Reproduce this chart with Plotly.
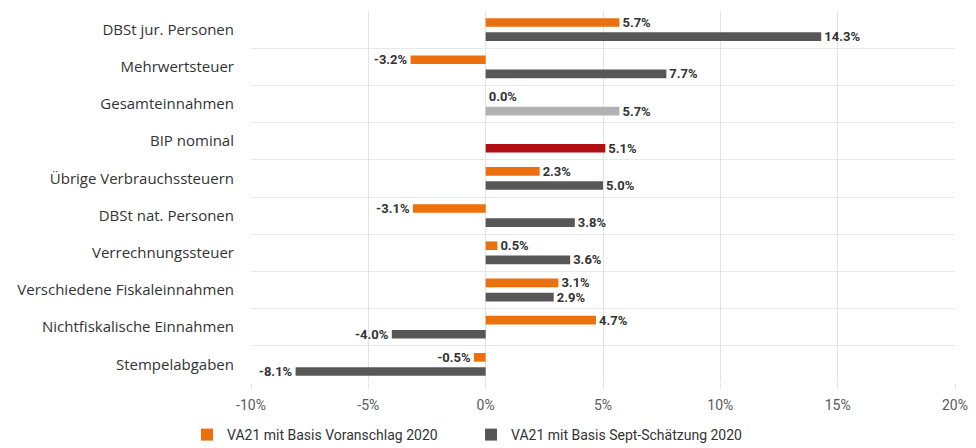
import plotly.graph_objects as go

categories = [
    "DBSt jur. Personen",
    "Mehrwertsteuer",
    "Gesamteinnahmen",
    "BIP nominal",
    "Übrige Verbrauchssteuern",
    "DBSt nat. Personen",
    "Verrechnungssteuer",
    "Verschiedene Fiskaleinnahmen",
    "Nichtfiskalische Einnahmen",
    "Stempelabgaben",
]
voranschlag = [5.7, -3.2, 0.0, None, 2.3, -3.1, 0.5, 3.1, 4.7, -0.5]
sept = [14.3, 7.7, 5.7, 5.1, 5.0, 3.8, 3.6, 2.9, -4.0, -8.1]
tick_vals = [-10, -5, 0, 5, 10, 15, 20]
tick_text = ["-10%", "-5%", "0%", "5%", "10%", "15%", "20%"]

ORANGE = "#EC700C"
DARK = "#575757"
LIGHT = "#B2B2B2"
RED = "#B20F12"

ypos = list(range(len(categories)))
sept_colors = []
for c in categories:
    if c == "Gesamteinnahmen":
        sept_colors.append(LIGHT)
    elif c == "BIP nominal":
        sept_colors.append(RED)
    else:
        sept_colors.append(DARK)

label_font = dict(family="Roboto, Arial, sans-serif", size=13, color="#333333")

fig = go.Figure()
fig.add_trace(go.Bar(
    y=ypos, x=voranschlag, orientation="h", name="VA21 mit Basis Voranschlag 2020",
    marker=dict(color=ORANGE, line=dict(width=0)),
    texttemplate="<b>%{x:.1f}%</b>", textposition="outside", textfont=label_font,
    constraintext="none", cliponaxis=False,
))
fig.add_trace(go.Bar(
    y=ypos, x=sept, orientation="h", name="VA21 mit Basis Sept-Schätzung 2020",
    marker=dict(color=sept_colors, line=dict(width=0)),
    texttemplate="<b>%{x:.1f}%</b>", textposition="outside", textfont=label_font,
    constraintext="none", cliponaxis=False,
))

fig.update_layout(
    width=976, height=448,
    margin=dict(l=251, r=21, t=11, b=65, autoexpand=False),
    paper_bgcolor="white", plot_bgcolor="white",
    barmode="group", bargap=0.24, bargroupgap=0.39,
    font=dict(family="Roboto, Arial, sans-serif", size=14, color="#333333"),
    showlegend=True,
    legend=dict(orientation="h", xref="container", yref="container",
                x=187 / 976, xanchor="left", y=1 - 435 / 448, yanchor="middle",
                font=dict(size=14, color="#333333"), itemwidth=30,
                entrywidth=239, entrywidthmode="pixels",
                traceorder="normal"),
)
fig.update_xaxes(
    range=[-10, 20], tickvals=tick_vals, ticktext=tick_text,
    showgrid=True, gridcolor="#E3E3E3", gridwidth=1,
    zeroline=True, zerolinecolor="#E3E3E3", zerolinewidth=1,
    showline=False, ticks="outside", ticklen=5, tickcolor="#E3E3E3",
    ticklabelstandoff=4, automargin=False,
    tickfont=dict(size=14, color="#595959"), fixedrange=True,
)
fig.update_yaxes(
    range=[len(categories) - 0.5, -0.5], tickvals=ypos, ticktext=categories,
    showgrid=False, zeroline=False, showline=False, ticks="",
    ticklabelstandoff=16, automargin=False,
    tickfont=dict(family="Open Sans, Roboto, sans-serif", size=15, color="#333333"),
    minor=dict(tickvals=[i + 0.5 for i in ypos[:-1]], showgrid=True,
               gridcolor="#E8E8E8", gridwidth=1, ticks=""),
)
fig.write_html(
    "out.html",
    config={"displayModeBar": False},
    post_script="document.body.style.margin='0';document.body.style.overflow='hidden';",
)
